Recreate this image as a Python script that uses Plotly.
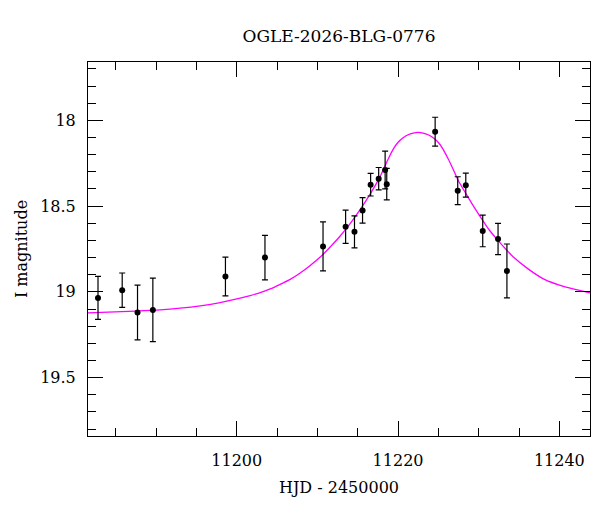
import plotly.graph_objects as go

# Observations
hjd = [11182.8, 11185.8, 11187.7, 11189.6, 11198.6, 11203.5, 11210.7,
       11213.5, 11214.6, 11215.6, 11216.6, 11217.6, 11218.4, 11218.6,
       11224.6, 11227.4, 11228.4, 11230.5, 11232.4, 11233.5]
mag = [19.035, 18.99, 19.12, 19.105, 18.91, 18.80, 18.735,
       18.62, 18.65, 18.525, 18.375, 18.34, 18.29, 18.372,
       18.066, 18.41, 18.378, 18.645, 18.692, 18.878]
err = [0.125, 0.10, 0.16, 0.185, 0.113, 0.13, 0.143,
       0.097, 0.093, 0.074, 0.066, 0.065, 0.11, 0.092,
       0.084, 0.081, 0.07, 0.092, 0.091, 0.157]

# Model curve
model_t = [11181.56, 11187.42, 11190.52, 11193.00, 11195.48, 11197.95,
           11200.43, 11201.67, 11202.91, 11204.15, 11205.39, 11206.63,
           11207.87, 11209.11, 11210.35, 11211.59, 11212.83, 11214.06,
           11215.30, 11216.54, 11217.78, 11218.77, 11219.39, 11220.01,
           11220.63, 11221.25, 11221.87, 11222.49, 11223.11, 11223.73,
           11224.35, 11224.97, 11225.59, 11226.21, 11226.83, 11227.45,
           11228.53, 11229.43, 11230.51, 11231.41, 11232.44, 11233.40,
           11234.30, 11236.12, 11238.02, 11240.71, 11243.56, 11243.87]
model_mag = [19.122, 19.112, 19.105, 19.095, 19.081, 19.062,
             19.037, 19.022, 19.004, 18.983, 18.956, 18.927,
             18.890, 18.846, 18.797, 18.738, 18.674, 18.602,
             18.520, 18.430, 18.328, 18.227, 18.169, 18.128,
             18.102, 18.084, 18.074, 18.070, 18.074, 18.084,
             18.102, 18.128, 18.169, 18.224, 18.285, 18.349,
             18.436, 18.506, 18.584, 18.645, 18.703, 18.753,
             18.797, 18.866, 18.924, 18.971, 19.003, 19.006]

FONT = "DejaVu Serif"

fig = go.Figure()
fig.add_trace(go.Scatter(
    x=model_t, y=model_mag, mode="lines",
    line=dict(color="#ff00ff", width=1.3, shape="spline", smoothing=0.6),
    hoverinfo="skip", showlegend=False))
fig.add_trace(go.Scatter(
    x=hjd, y=mag, mode="markers",
    marker=dict(color="black", size=6),
    error_y=dict(type="data", array=err, color="black", thickness=1.2, width=3),
    showlegend=False))

axis_common = dict(
    showline=True, linecolor="black", linewidth=1, mirror="allticks",
    ticks="inside", ticklen=15, tickwidth=1, tickcolor="black",
    showgrid=False, zeroline=False,
    tickfont=dict(family=FONT, size=16, color="black"),
)

fig.update_xaxes(
    range=[11181.56, 11243.8], dtick=20, tick0=11200, tickformat="d",
    minor=dict(ticks="inside", dtick=5, ticklen=8, tickcolor="black"),
    title=dict(text="HJD - 2450000", font=dict(family=FONT, size=16, color="black"), standoff=12),
    ticklabelstandoff=10,
    **axis_common)
fig.update_yaxes(
    range=[19.84, 17.66], dtick=0.5, tick0=18,
    minor=dict(ticks="inside", dtick=0.1, ticklen=8, tickcolor="black"),
    title=dict(text="I magnitude", font=dict(family=FONT, size=16, color="black"), standoff=8),
    ticklabelstandoff=8,
    **axis_common)

fig.update_layout(
    width=600, height=512,
    margin=dict(l=88, r=10, t=62, b=76),
    paper_bgcolor="white", plot_bgcolor="white",
    title=dict(text="OGLE-2026-BLG-0776", x=0.565, xanchor="center",
               y=1 - 36 / 512, yanchor="middle",
               font=dict(family=FONT, size=17, color="black")),
    font=dict(family=FONT, color="black"),
)

fig.write_html("out.html")
